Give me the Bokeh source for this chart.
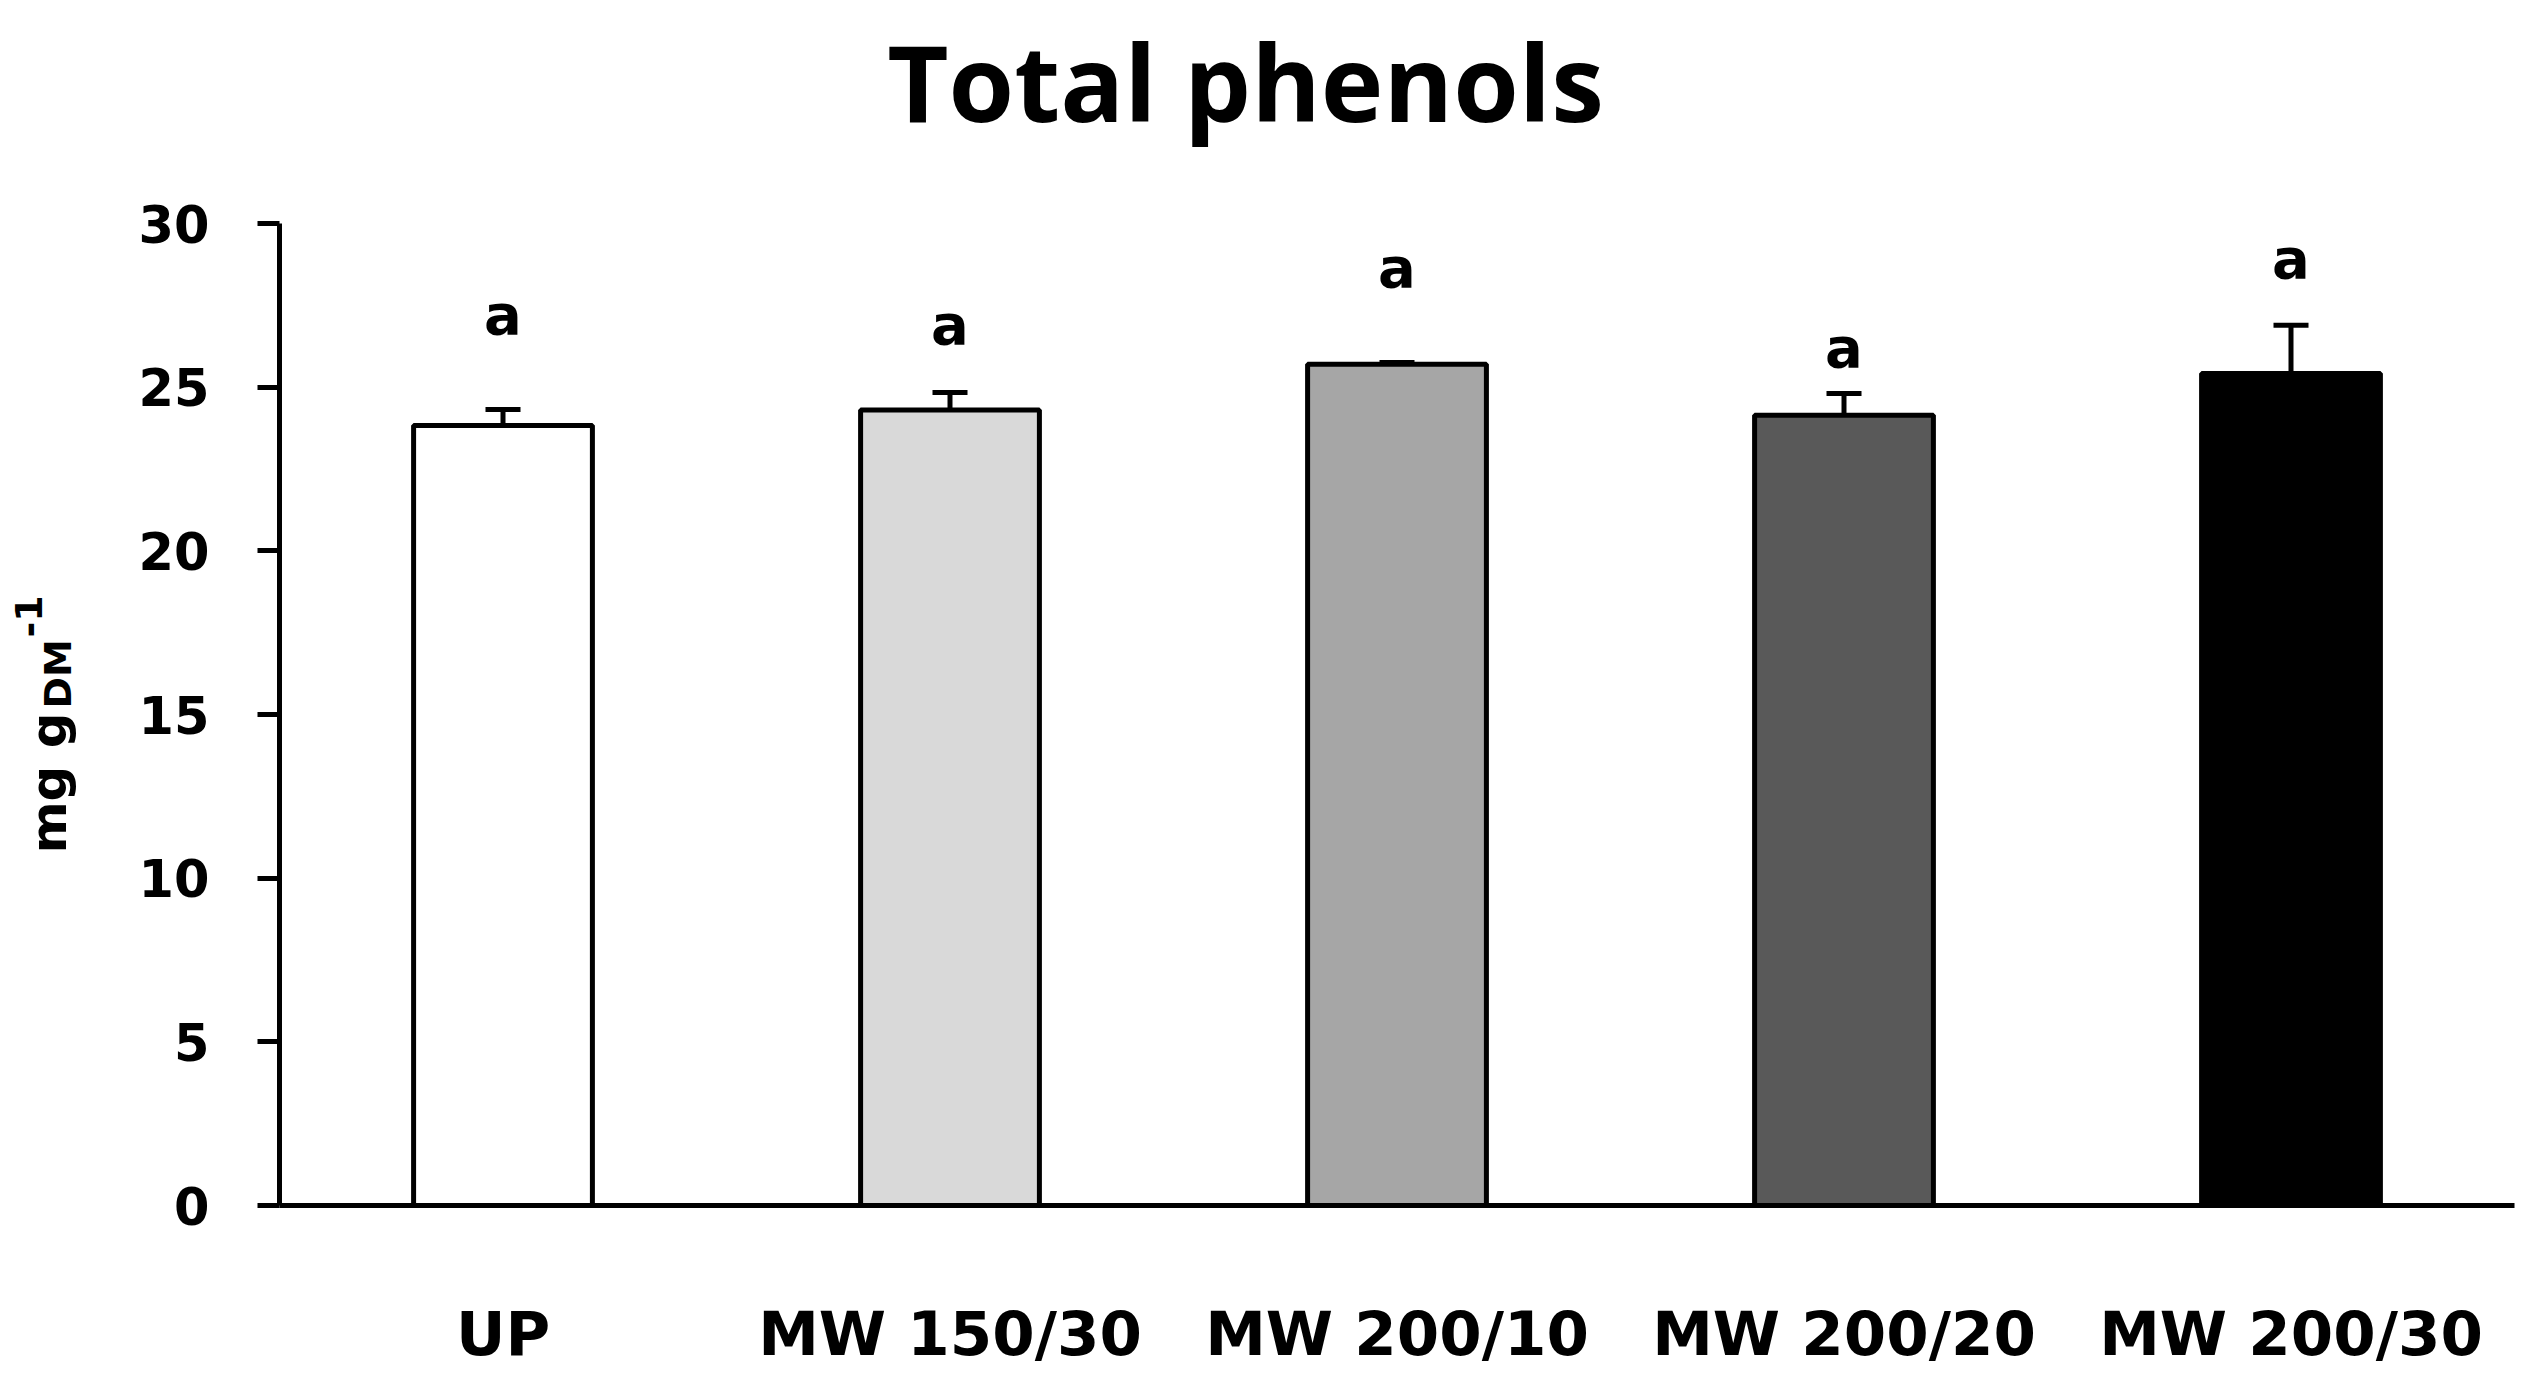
import math
from bokeh.plotting import figure
from bokeh.layouts import row
from bokeh.models import (ColumnDataSource, FactorRange, Range1d, Whisker, TeeHead,
                          FixedTicker)
from bokeh.core.properties import value
from bokeh.embed import file_html
from bokeh.resources import INLINE

# ---- data ----
categories = ["UP", "MW 150/30", "MW 200/10", "MW 200/20", "MW 200/30"]
means = [23.83, 24.30, 25.70, 24.14, 25.42]
errors = [0.49, 0.54, 0.05, 0.67, 1.47]
letters = ["a", "a", "a", "a", "a"]
letter_y = [26.67, 26.37, 28.10, 25.66, 28.38]
y_ticks = [0, 5, 10, 15, 20, 25, 30]
bar_colors = ["#ffffff", "#d9d9d9", "#a6a6a6", "#595959", "#000000"]
title_text = "Total phenols"

# ---- layout geometry (pixels) ----
TOTAL_W, TOTAL_H = 2523, 1372
LABEL_W = 130
BORDER_BOTTOM = 167
AXIS_TOP_PX = 223            # canvas y of the 30 tick
FRAME_H = TOTAL_H - BORDER_BOTTOM
Y_MAX = 30
Y_TOP = Y_MAX * FRAME_H / (FRAME_H - AXIS_TOP_PX)   # frame extends above 30 for the title
PX_PER_UNIT = (FRAME_H - AXIS_TOP_PX) / Y_MAX
BASELINE_FIX = 0.32          # rendered baseline sits this many em below the anchor

LETTER_SIZE = 56
TITLE_SIZE = 106
MAIN_SIZE, SUB_SIZE = 50, 38

src = ColumnDataSource(dict(
    cat=categories,
    mean=means,
    upper=[m + e for m, e in zip(means, errors)],
    letter=letters,
    ly=[v + BASELINE_FIX * LETTER_SIZE / PX_PER_UNIT for v in letter_y],
    color=bar_colors,
))

# ---- y-axis label strip (data units == canvas pixels) ----
lf = figure(width=LABEL_W, height=TOTAL_H,
            x_range=Range1d(0, LABEL_W), y_range=Range1d(FRAME_H, 0),
            x_axis_type=None, y_axis_type=None,
            output_backend="svg", toolbar_location=None,
            min_border_left=0, min_border_right=0,
            min_border_top=0, min_border_bottom=BORDER_BOTTOM)
lf.outline_line_color = None
lf.xgrid.grid_line_color = None
lf.ygrid.grid_line_color = None
ang = math.pi / 2

def ylab(txt, base_x, start_y, size):
    lf.text(x=[base_x - BASELINE_FIX * size], y=[start_y], text=[txt], angle=ang,
            text_align="left", text_baseline="alphabetic",
            text_font=value("DejaVu Sans"), text_font_style="bold",
            text_font_size=f"{size}px", text_color="black")

ylab("mg g", 64, 853, MAIN_SIZE)
ylab("DM", 70, 708, SUB_SIZE)
ylab("-1", 40, 637, SUB_SIZE)

# ---- main chart ----
p = figure(
    width=TOTAL_W - LABEL_W, height=TOTAL_H,
    x_range=FactorRange(factors=categories, range_padding=0),
    y_range=Range1d(0, Y_TOP),
    output_backend="svg", toolbar_location=None,
    min_border_left=279 - LABEL_W, min_border_right=9,
    min_border_top=0, min_border_bottom=BORDER_BOTTOM,
)
p.outline_line_color = None
p.background_fill_color = "white"
p.xgrid.grid_line_color = None
p.ygrid.grid_line_color = None

p.vbar(x="cat", top="mean", bottom=0, width=0.4, source=src,
       fill_color="color", line_color="black", line_width=5)

w = Whisker(source=src, base="cat", lower="mean", upper="upper",
            dimension="height", line_color="black", line_width=5,
            upper_head=TeeHead(size=35, line_width=5, line_color="black"),
            lower_head=None, level="overlay")
p.add_layout(w)

p.text(x="cat", y="ly", text="letter", source=src,
       text_align="center", text_baseline="alphabetic",
       text_font=value("DejaVu Sans"), text_font_style="bold",
       text_font_size=f"{LETTER_SIZE}px", text_color="black")

# title drawn inside the (extended) frame, above the 30 tick
title_baseline_px = 114 - BASELINE_FIX * TITLE_SIZE
title_y = Y_MAX + (AXIS_TOP_PX - title_baseline_px) / PX_PER_UNIT
title_x = (1245 - 279) / ((TOTAL_W - 279 - 9) / len(categories))
p.text(x=[title_x], y=[title_y], text=[title_text], text_align="center",
       text_baseline="alphabetic", text_font=value("Open Sans"),
       text_font_style="bold", text_font_size=f"{TITLE_SIZE}px", text_color="black")

p.yaxis.ticker = FixedTicker(ticks=y_ticks)
p.yaxis.bounds = (0, Y_MAX)
p.yaxis.axis_line_width = 5
p.yaxis.axis_line_color = "black"
p.yaxis.major_tick_line_width = 5
p.yaxis.major_tick_line_color = "black"
p.yaxis.major_tick_in = 0
p.yaxis.major_tick_out = 22
p.yaxis.minor_tick_line_color = None
p.yaxis.major_label_standoff = 48
p.yaxis.major_label_text_font = "DejaVu Sans"
p.yaxis.major_label_text_font_style = "bold"
p.yaxis.major_label_text_font_size = "51px"
p.yaxis.major_label_text_color = "black"

p.xaxis.axis_line_width = 5
p.xaxis.axis_line_color = "black"
p.xaxis.major_tick_line_color = None
p.xaxis.major_tick_in = 0
p.xaxis.major_tick_out = 0
p.xaxis.major_label_standoff = 92
p.xaxis.major_label_text_font = "DejaVu Sans"
p.xaxis.major_label_text_font_style = "bold"
p.xaxis.major_label_text_font_size = "61px"
p.xaxis.major_label_text_color = "black"

layout = row(lf, p, spacing=0)
open("out.html", "w").write(file_html(layout, INLINE))
